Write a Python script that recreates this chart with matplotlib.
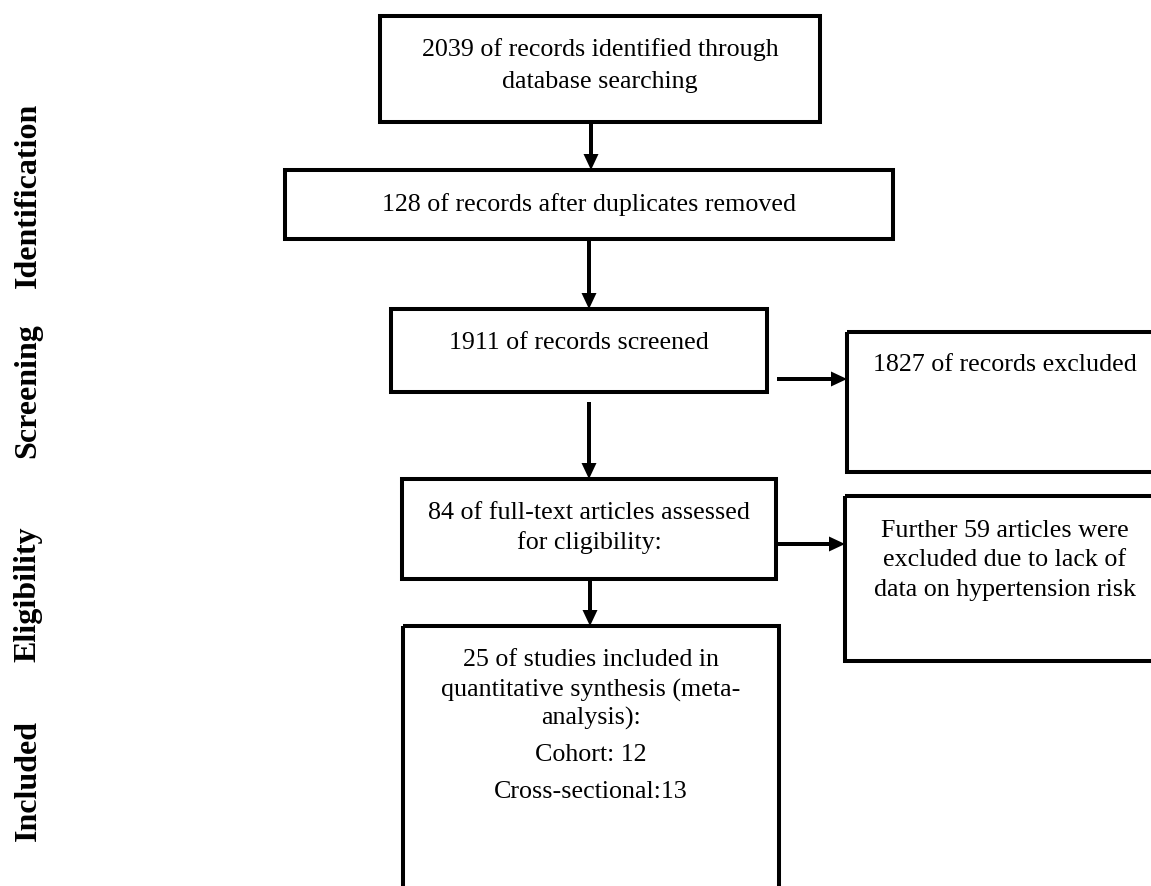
import matplotlib.pyplot as plt
from matplotlib.patches import Rectangle

# stage labels on the left
stages = ["Identification", "Screening", "Eligibility", "Included"]
stage_y = [195, 391, 594, 781]

# main column boxes: lines of text
main_texts = [
    ["2039 of records identified through", "database searching"],
    ["128 of records after duplicates removed"],
    ["1911 of records screened"],
    ["84 of full-text articles assessed", "for cligibility:"],
    ["25 of studies included in", "quantitative synthesis (meta-", "analysis):",
     "Cohort: 12", "Cross-sectional:13"],
]
# side boxes (exclusions)
side_texts = [
    ["1827 of records excluded"],
    ["Further 59 articles were", "excluded due to lack of", "data on hypertension risk"],
]

# layout (pixel coordinates, y down)
main_boxes = [(380, 17, 820, 123), (285, 171, 893, 240), (391, 310, 767, 393),
              (402, 480, 776, 580), (403, 627, 779, 905)]
main_line_y = [[50, 82], [205], [343], [513, 543], [660, 690, 718, 755, 792]]
side_boxes = [(847, 333, 1170, 473), (845, 497, 1170, 662)]
side_line_y = [[365], [531, 560, 590]]
side_cx = 1005

down_arrows = [(591, 123, 171), (589, 240, 310), (589, 403, 480), (590, 580, 627)]
right_arrows = [(380, 777, 847), (545, 776, 845)]

fig = plt.figure(figsize=(11.51, 8.87), dpi=100)
ax = fig.add_axes([0, 0, 1, 1])
ax.set_xlim(0, 1151)
ax.set_ylim(887, 0)
ax.axis('off')

font = ['Liberation Serif', 'DejaVu Serif']
lw = 2.9


def draw_box(box, lines, ys, cx=None):
    x0, y0, x1, y1 = box
    ax.add_patch(Rectangle((x0, y0), x1 - x0, y1 - y0, fill=False,
                           edgecolor='black', lw=lw, joinstyle='miter',
                           clip_on=False))
    if cx is None:
        cx = (x0 + x1) / 2
    for line, y in zip(lines, ys):
        ax.text(cx, y, line, ha='center', va='center', fontsize=18.7,
                family=font, color='black')


for box, lines, ys in zip(main_boxes, main_texts, main_line_y):
    draw_box(box, lines, ys)

for box, lines, ys in zip(side_boxes, side_texts, side_line_y):
    draw_box(box, lines, ys, cx=side_cx)

for x, y0, y1 in down_arrows:
    ax.arrow(x, y0, 0, y1 - y0, width=4, head_width=15, head_length=16,
             length_includes_head=True, color='black', lw=0)

for y, x0, x1 in right_arrows:
    ax.arrow(x0, y, x1 - x0, 0, width=4, head_width=15, head_length=16,
             length_includes_head=True, color='black', lw=0)

for label, y in zip(stages, stage_y):
    ax.text(28, y, label, rotation=90, ha='center', va='center',
            fontsize=23, fontweight='bold', family=font)

fig.savefig('out.png', dpi=100)
